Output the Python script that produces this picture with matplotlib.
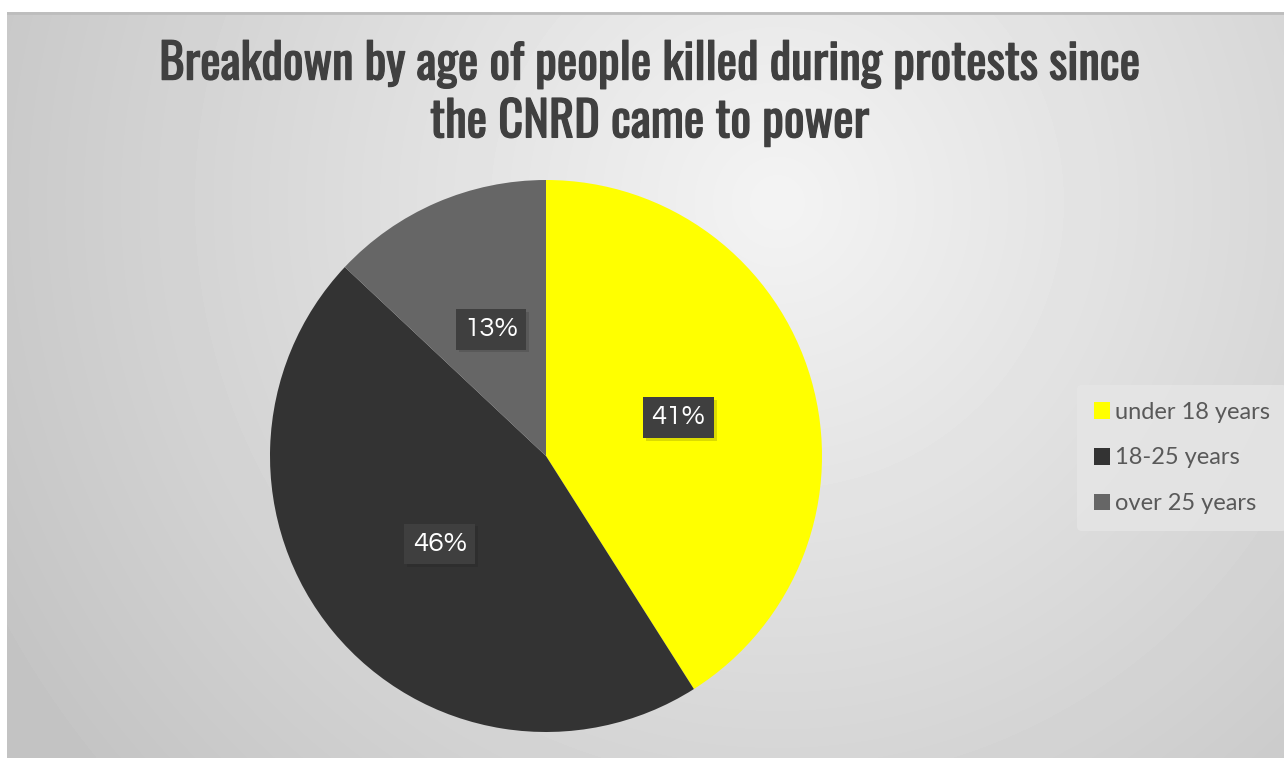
import numpy as np
import matplotlib
matplotlib.use('Agg')
import matplotlib.pyplot as plt
import matplotlib.patheffects as pe

labels = ['under 18 years', '18-25 years', 'over 25 years']
values = [41, 46, 13]
colors = ['#FFFF00', '#333333', '#666666']
title = 'Breakdown by age of people killed during protests since\nthe CNRD came to power'

W, H = 1284, 758
fig = plt.figure(figsize=(W / 100, H / 100), dpi=100)
fig.patch.set_facecolor('white')

# radial gradient background panel
bg = fig.add_axes([7 / W, 0, 1 - 7 / W, 1 - 12 / H])
yy, xx = np.mgrid[0:H - 12, 0:W - 7]
d = np.hypot(xx - 770, yy - 190) / 900
d = np.clip(d, 0, 1)
shade = 0.955 - (0.955 - 0.765) * d
bg.imshow(shade, cmap='gray', vmin=0, vmax=1, aspect='auto', interpolation='bilinear')
bg.axhline(0, color='#bdbdbd', lw=2)
bg.set_axis_off()

# Oswald here only has one weight, so thicken it a bit with a stroke
fig.text(650 / W, 1 - 93 / H, title, ha='center', va='center', fontsize=35,
         fontweight='bold', color='#404040',
         family=['Oswald', 'Archivo Narrow', 'DejaVu Sans'],
         linespacing=1.22,
         path_effects=[pe.withStroke(linewidth=0.9, foreground='#404040')])

# pie
R = 276
cx, cy = 546, 456
ax = fig.add_axes([(cx - R) / W, 1 - (cy + R) / H, 2 * R / W, 2 * R / H])
wedges, texts, autotexts = ax.pie(values, colors=colors, startangle=90, counterclock=False,
                                  autopct='%1.0f%%', pctdistance=0.5,
                                  wedgeprops=dict(linewidth=0),
                                  textprops=dict(color='white', fontsize=20,
                                                 family=['Questrial', 'Lato', 'DejaVu Sans']))
for t in autotexts:
    t.set_bbox(dict(boxstyle='square,pad=0.3', facecolor='#3f3f3f', edgecolor='none'))
    t.get_bbox_patch().set_path_effects([pe.SimplePatchShadow(offset=(2, -2), alpha=0.15),
                                         pe.Normal()])
ax.set_aspect('equal')
ax.set_xlim(-1, 1)
ax.set_ylim(-1, 1)

leg = fig.legend(wedges, labels, loc='center', bbox_to_anchor=(1182 / W, 1 - 458 / H),
                 frameon=True, handlelength=0.7, handleheight=0.7,
                 handletextpad=0.2, labelspacing=1.05, borderpad=0.7,
                 prop=dict(family=['Lato', 'DejaVu Sans'], size=17))
leg.get_frame().set_facecolor('#e6e6e6')
leg.get_frame().set_edgecolor('none')
leg.get_frame().set_alpha(0.8)
for t in leg.get_texts():
    t.set_color('#595959')

fig.savefig('out.png', dpi=100)
